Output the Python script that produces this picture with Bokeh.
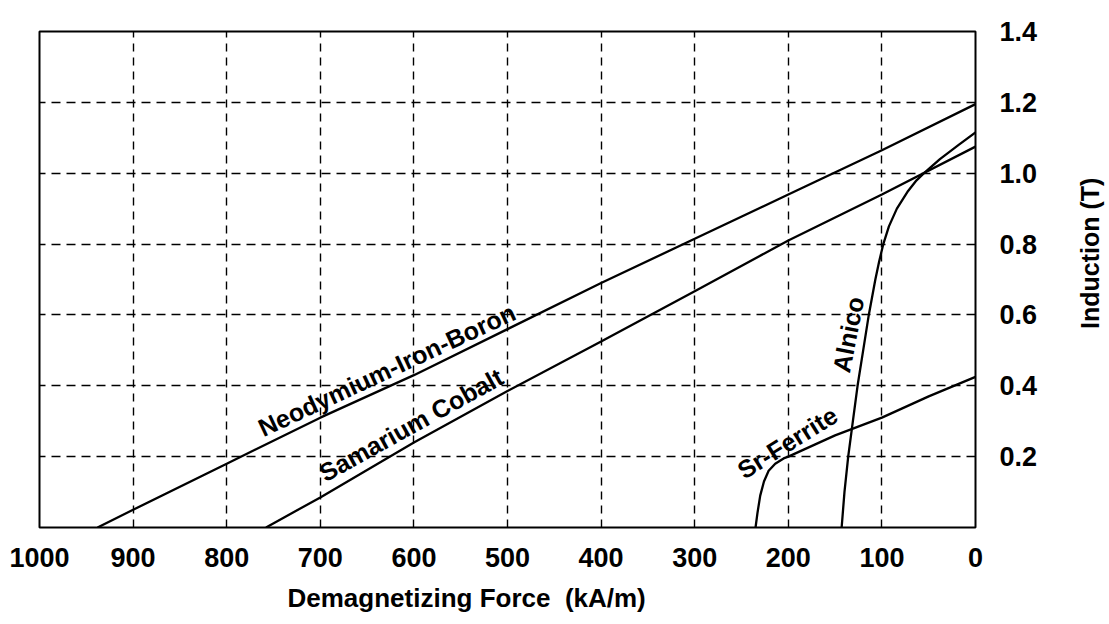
from bokeh.plotting import figure
from bokeh.layouts import row
from bokeh.models import Range1d, FixedTicker, Title
from bokeh.core.properties import value
from bokeh.embed import file_html
from bokeh.resources import INLINE

# ---- data ----
h_ticks = [1000, 900, 800, 700, 600, 500, 400, 300, 200, 100, 0]
b_ticks = [0.2, 0.4, 0.6, 0.8, 1.0, 1.2, 1.4]
b_tick_labels = ["0.2", "0.4", "0.6", "0.8", "1.0", "1.2", "1.4"]
grid_h = [900, 800, 700, 600, 500, 400, 300, 200, 100]
grid_b = [0.2, 0.4, 0.6, 0.8, 1.0, 1.2]

ndfeb_h = [938, 900, 800, 700, 600, 500, 400, 300, 200, 100, 0]
ndfeb_b = [0.0, 0.05, 0.18, 0.31, 0.43, 0.56, 0.69, 0.815, 0.94, 1.065, 1.195]

smco_h = [758, 700, 600, 500, 400, 300, 200, 100, 0]
smco_b = [0.0, 0.085, 0.24, 0.385, 0.525, 0.667, 0.81, 0.94, 1.075]

alnico_h = [143, 140, 136, 131, 126, 120, 114, 110.5, 107, 103, 98.5, 92.5, 84, 72, 63, 55, 38, 18, 0]
alnico_b = [0.0, 0.1, 0.2, 0.3, 0.4, 0.5, 0.6, 0.65, 0.7, 0.75, 0.8, 0.85, 0.9, 0.95, 0.98, 1.0, 1.04, 1.08, 1.115]

ferrite_h = [235, 233, 230, 226, 221, 214, 205, 200, 150, 100, 50, 0]
ferrite_b = [0.0, 0.04, 0.09, 0.13, 0.16, 0.18, 0.195, 0.2, 0.26, 0.31, 0.37, 0.425]

curve_names = ["Neodymium-Iron-Boron", "Samarium Cobalt", "Alnico", "Sr-Ferrite"]
x_title = "Demagnetizing Force\u00a0\u00a0(kA/m)"
y_title = "Induction (T)"

FONT = "Liberation Sans, Arial, sans-serif"

p = figure(width=1060, height=624,
           x_range=Range1d(1000, 0), y_range=Range1d(0, 1.4),
           y_axis_location="right",
           min_border_left=39, min_border_right=85,
           min_border_top=31, min_border_bottom=97,
           output_backend="svg", toolbar_location=None)

p.background_fill_color = "white"
p.border_fill_color = "white"
p.outline_line_color = "black"
p.outline_line_width = 2

# grids
p.xgrid.ticker = FixedTicker(ticks=grid_h)
p.ygrid.ticker = FixedTicker(ticks=grid_b)
for g in (p.xgrid, p.ygrid):
    g.grid_line_color = "black"
    g.grid_line_width = 1.4
p.xgrid.grid_line_dash = "8 6"
p.ygrid.grid_line_dash = "9 6"

# axes
p.xaxis.ticker = FixedTicker(ticks=h_ticks)
p.yaxis.ticker = FixedTicker(ticks=b_ticks)
p.yaxis.major_label_overrides = {t: s for t, s in zip(b_ticks, b_tick_labels)}
for ax in (p.xaxis, p.yaxis):
    ax.axis_line_color = None
    ax.major_tick_line_color = None
    ax.minor_tick_line_color = None
    ax.major_label_text_font = FONT
    ax.major_label_text_font_style = "bold"
    ax.major_label_text_font_size = "27px"
    ax.major_label_text_color = "black"
p.xaxis.major_label_standoff = 14
p.yaxis.major_label_standoff = 18

# curves
for hs, bs in [(ndfeb_h, ndfeb_b), (smco_h, smco_b), (alnico_h, alnico_b), (ferrite_h, ferrite_b)]:
    p.line(hs, bs, line_color="black", line_width=2.3)

# curve labels
lab_h = [629, 603, 136, 201]
lab_b = [0.445, 0.29, 0.545, 0.24]
lab_a = [25, 29, 79, 32]
p.text(x=lab_h, y=lab_b, text=curve_names, angle=lab_a, angle_units="deg",
       text_font=value(FONT), text_font_style="bold", text_font_size="25px",
       text_align="center", text_baseline="middle", text_color="black")

# x title
p.add_layout(Title(text=x_title, align="left", offset=248, standoff=22,
                   text_font=FONT, text_font_style="bold", text_font_size="26px",
                   text_color="black"), "below")

# narrow companion panel carrying the vertical y-axis title (same vertical scale)
q = figure(width=49, height=624, x_range=Range1d(0, 1), y_range=Range1d(0, 1.4),
           x_axis_type=None, y_axis_type=None,
           min_border_left=0, min_border_right=0,
           min_border_top=31, min_border_bottom=97,
           output_backend="svg", toolbar_location=None)
q.outline_line_color = None
q.background_fill_color = "white"
q.border_fill_color = "white"
q.xgrid.visible = False
q.ygrid.visible = False
q.text(x=[0.6], y=[0.774], text=[y_title], angle=90, angle_units="deg",
       text_font=value(FONT), text_font_style="bold", text_font_size="25px",
       text_align="center", text_baseline="middle", text_color="black")

layout = row(p, q)
open("out.html", "w").write(file_html(layout, INLINE))
